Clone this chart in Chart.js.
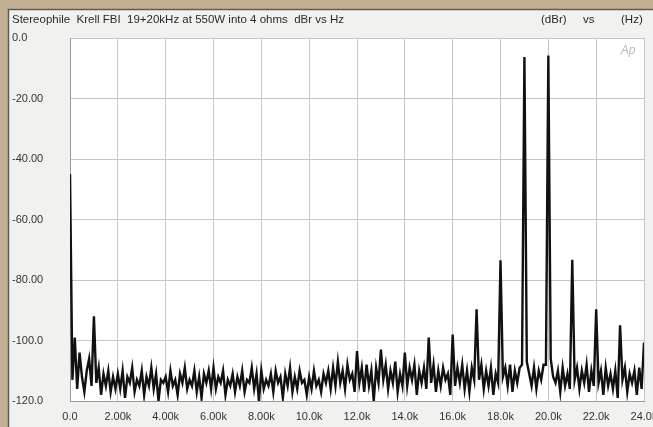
<!DOCTYPE html>
<html><head><meta charset="utf-8">
<script src="https://cdn.jsdelivr.net/npm/chart.js@4"></script>
<style>html,body{margin:0;padding:0;background:#c3b094;overflow:hidden}canvas{display:block}</style>
</head><body><canvas id="c" width="653" height="427"></canvas>
<script>
const titleLeft = "Stereophile  Krell FBI  19+20kHz at 550W into 4 ohms  dBr vs Hz";
const titleUnits = ["(dBr)", "vs", "(Hz)"];
const freqStepHz = 100;
// level in dBr for every 100 Hz bin, 0 Hz .. 24 kHz
const levelsDb = [
  -45, -113, -99, -116, -104, -112, -117, -110, -106, -115,
  -92, -114, -109, -118, -111, -115, -110, -117, -112, -116,
  -111, -116, -110, -119, -112, -114, -109, -117, -113, -115,
  -110, -118, -112, -115, -109, -116, -111, -120, -113, -114,
  -112, -117, -110, -115, -113, -118, -111, -114, -109, -116,
  -113, -115, -110, -117, -112, -119, -111, -114, -110, -116,
  -109, -116, -112, -114, -110, -118, -113, -115, -111, -117,
  -112, -115, -110, -117, -113, -114, -109, -116, -111, -120,
  -110, -116, -113, -115, -111, -117, -110, -114, -112, -119,
  -111, -115, -109, -117, -112, -116, -110, -114, -113, -118,
  -112, -116, -110, -115, -113, -117, -111, -114, -110, -116,
  -109, -115, -107, -114, -110, -116, -108, -113, -111, -117,
  -103.5, -114, -109, -117, -108, -115, -110, -120, -109, -114,
  -103, -113, -108, -116, -110, -114, -107, -117, -111, -115,
  -104, -115, -109, -113, -108, -118, -110, -114, -109, -116,
  -99, -114, -108, -117, -110, -115, -109, -113, -111, -118,
  -98, -115, -109, -114, -108, -116, -110, -117, -109, -113,
  -89.7, -113, -108, -116, -110, -115, -109, -118, -111, -114,
  -73.5, -112, -109, -115, -108, -117, -110, -114, -109, -108,
  -6.3, -107, -111, -115, -109, -116, -110, -113, -108, -108,
  -5.8, -106, -112, -114, -110, -117, -109, -115, -111, -116,
  -73.3, -113, -109, -116, -110, -114, -108, -117, -110, -115,
  -89.7, -114, -110, -118, -109, -115, -111, -116, -110, -119,
  -95, -113, -109, -117, -111, -114, -110, -118, -109, -116,
  -100.7
];
const xTickLabels = ["0.0","2.00k","4.00k","6.00k","8.00k","10.0k","12.0k","14.0k","16.0k","18.0k","20.0k","22.0k","24.0k"];
const yTickValues = [0, -20, -40, -60, -80, -100, -120];
const yTickLabels = ["0.0","-20.00","-40.00","-60.00","-80.00","-100.0","-120.0"];

const points = levelsDb.map((v, i) => ({x: i * freqStepHz, y: v}));
const FONT = "'Liberation Sans', Arial, sans-serif";

const framePlugin = {
  id: 'frame',
  beforeDraw(chart) {
    const ctx = chart.ctx, a = chart.chartArea;
    ctx.save();
    ctx.fillStyle = '#c3b094';
    ctx.fillRect(0, 0, chart.width, chart.height);
    ctx.fillStyle = '#f1f1ef';
    ctx.fillRect(8, 9, chart.width - 8, chart.height - 9);
    ctx.strokeStyle = '#5c5c5c';
    ctx.lineWidth = 1.5;
    ctx.beginPath();
    ctx.moveTo(8.5, chart.height); ctx.lineTo(8.5, 9.5); ctx.lineTo(chart.width, 9.5);
    ctx.stroke();
    ctx.fillStyle = '#ffffff';
    ctx.fillRect(a.left, a.top, a.right - a.left, a.bottom - a.top);
    ctx.restore();
  },
  afterDraw(chart) {
    const ctx = chart.ctx, a = chart.chartArea;
    ctx.save();
    ctx.fillStyle = '#2a2a2a';
    ctx.font = "11.5px " + FONT;
    ctx.textBaseline = 'middle';
    ctx.textAlign = 'left';
    ctx.fillText(titleLeft, 12, 20);
    const ux = [541, 583, 621];
    titleUnits.forEach((t, i) => ctx.fillText(t, ux[i], 20));
    ctx.fillStyle = '#b8b8b8';
    ctx.font = "italic 12px " + FONT;
    ctx.textAlign = 'center';
    ctx.fillText('Ap', a.right - 16, a.top + 13);
    ctx.restore();
  }
};

new Chart(document.getElementById('c'), {
  type: 'line',
  data: { datasets: [{
    data: points,
    borderColor: '#111111',
    borderWidth: 2.4,
    pointRadius: 0,
    tension: 0,
    fill: false
  }]},
  options: {
    responsive: false,
    animation: false,
    devicePixelRatio: 1,
    layout: { padding: { left: 12, top: 38, right: 9, bottom: 0 } },
    plugins: { legend: { display: false }, tooltip: { enabled: false }, title: { display: false } },
    scales: {
      x: {
        type: 'linear', min: 0, max: 24000,
        ticks: {
          stepSize: 2000, autoSkip: false, maxRotation: 0, padding: 9,
          color: '#333', font: { family: FONT, size: 11 },
          callback: (v, i) => xTickLabels[i]
        },
        grid: { color: '#c6c6c6', lineWidth: 1, drawTicks: false },
        border: { color: '#9a9a9a', width: 1 },
        afterFit(s) { s.height = 26; s.paddingLeft = 0; s.paddingRight = 0; }
      },
      y: {
        type: 'linear', min: -120, max: 0,
        afterBuildTicks(s) { s.ticks = yTickValues.map(v => ({value: v})); },
        ticks: {
          crossAlign: 'far', padding: 4,
          color: '#333', font: { family: FONT, size: 11 },
          callback: (v) => yTickLabels[yTickValues.indexOf(v)]
        },
        grid: { color: '#c6c6c6', lineWidth: 1, drawTicks: false },
        border: { color: '#9a9a9a', width: 1 },
        afterFit(s) { s.width = 58; s.paddingTop = 0; s.paddingBottom = 0; }
      }
    }
  },
  plugins: [framePlugin]
});
</script>
</body></html>
